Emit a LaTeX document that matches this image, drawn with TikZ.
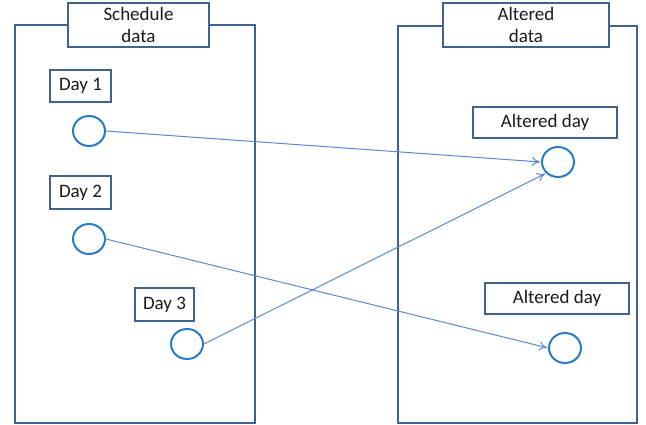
\documentclass[tikz,border=0pt]{standalone}
\usepackage{fontspec}
\setmainfont{Carlito}
\usetikzlibrary{arrows.meta,shapes.geometric}
\definecolor{frame}{HTML}{41628F}
\definecolor{circ}{HTML}{2A7BC6}
\definecolor{arr}{HTML}{5A8AD0}
\definecolor{txt}{HTML}{1A1A1A}
\tikzset{
  bigbox/.style={draw=frame, line width=2pt, fill=white, inner sep=0pt},
  labelbox/.style={draw=frame, line width=2pt, fill=white, inner sep=0pt, text=txt, font=\fontsize{19}{22}\selectfont, align=center},
  dot/.style={draw=circ, line width=2pt, ellipse, minimum width=32pt, minimum height=30pt, inner sep=0pt},
  link/.style={draw=arr, line width=1pt, -{To[length=8pt,width=9pt]}, shorten >=1pt}
}
\begin{document}
\begin{tikzpicture}[x=1pt,y=-1pt]
\useasboundingbox (0,0) rectangle (646,425);
% containers
\node[bigbox, minimum width=240pt, minimum height=398pt] (left) at (135,224) {};
\node[bigbox, minimum width=239pt, minimum height=397pt] (right) at (517.5,224.5) {};
% headers
\node[labelbox, minimum width=141pt, minimum height=44pt] (lh) at (138.5,25) {Schedule\\data};
\node[labelbox, minimum width=166pt, minimum height=44pt] (rh) at (526,25) {Altered\\data};
% day boxes
\node[labelbox, minimum width=61pt, minimum height=32pt] (d1) at (80.5,86) {Day 1};
\node[labelbox, minimum width=61pt, minimum height=33pt] (d2) at (80.5,192.5) {Day 2};
\node[labelbox, minimum width=59pt, minimum height=33pt] (d3) at (164.5,304.5) {Day 3};
\node[labelbox, minimum width=144pt, minimum height=31pt] (a1) at (545,122.5) {Altered day};
\node[labelbox, minimum width=144pt, minimum height=31pt] (a2) at (557,298.5) {Altered day};
% circles
\node[dot] (c1) at (89,131) {};
\node[dot] (c2) at (89,239) {};
\node[dot] (c3) at (187,344) {};
\node[dot] (t1) at (558,162) {};
\node[dot] (t2) at (565,348) {};
% links
\draw[link] (c1.east) -- (t1.west);
\draw[link] (c2.east) -- (t2.west);
\draw[link] (c3.east) -- (t1.south west);
\end{tikzpicture}
\end{document}
